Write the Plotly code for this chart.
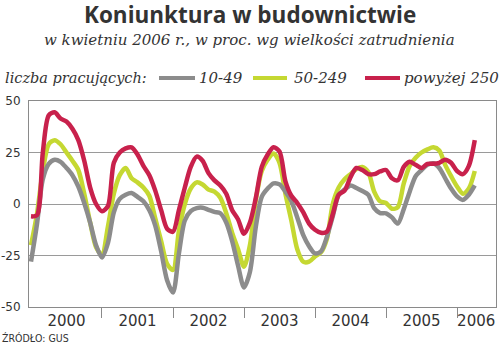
import plotly.graph_objects as go

# Monthly survey balance, Jan 2000 - Apr 2006, by firm size (employees)
start_year = 2000
small_10_49 = [
    -28, -10, 12, 19.5, 21.5, 20.5, 17.5, 14, 8.5, 0.5, -9, -20,
    -26, -19, -4, 2.5, 4.5, 5.3, 3.5, 1.3, -3, -10.5, -23, -37,
    -43, -24, -8, -3.5, -2, -1.8, -2.8, -3.8, -4.5, -9, -18, -30,
    -40.5, -33, -11, 3.5, 7.5, 10, 9.5, 6, 1.5, -6.5, -15, -20.5,
    -24, -23, -16, -6, 4.5, 7, 9, 7.8, 6.3, 4.5, -2, -4.4,
    -4.5, -6.5, -9.5, -2.5, 6, 13.5, 16.5, 19, 19.8, 17.5, 12.5, 7.5,
    3.7, 2, 4.5, 9,
]
medium_50_249 = [
    -20, -5, 16, 29, 31, 29, 25, 21, 16.5, 5, -9, -21,
    -24.5, -11, 5, 14, 17.5, 12.5, 10.5, 8, 4, -7, -18, -29,
    -32, -13, 0, 7.5, 10.5, 9.5, 7, 6, 3, -4.5, -14, -22,
    -30.5, -20, 2, 16, 21.5, 24.5, 20, 5, -8, -22, -28, -28,
    -25.5, -23.5, -17, 0, 8, 12, 14.5, 17, 18, 15.5, 6, 1.3,
    0.5, -2.3, -1.5, 10, 18.5, 22.5, 25, 26.5, 27.5, 26, 19, 13.5,
    8.5, 5, 7.5, 16,
]
large_250 = [
    -6, -5.5, 25, 43, 44.5, 41.5, 40, 36.5, 31, 21, 8, 0,
    -3.5, -1, 20, 25, 27, 27.5, 24, 18.5, 14, 6.5, -3, -12,
    -13.5, -3, 8, 18, 23, 21, 15, 11.5, 9, 5, -3, -7.5,
    -14.5, -9, 3, 18, 24, 27.5, 25.5, 11, 4, 0.5, -4, -9.5,
    -12.5, -14, -13.5, -5, 4.5, 6.5, 13, 17.5, 16.5, 14.5, 14.5, 15.8,
    16.5, 12.5, 11.5, 18, 20.5, 19, 17.5, 19.5, 19.5, 20, 21.5, 20,
    16, 14.5, 18.5, 31,
]
series_names = ["10-49", "50-249", "powyżej 250"]
years = ["2000", "2001", "2002", "2003", "2004", "2005", "2006"]
y_ticks = [-50, -25, 0, 25, 50]
y_tick_text = ["-50", "-25", "0", "25", "50"]

GRAY = "#8c8c8c"
GREEN = "#c5d832"
RED = "#c8214c"
TEXT = "#333333"
AXIS = "#8a8a8a"

months = [start_year + i / 12 for i in range(len(large_250))]

fig = go.Figure()
# green drawn first, gray above it, red on top
for vals, color, name in [
    (medium_50_249, GREEN, series_names[1]),
    (small_10_49, GRAY, series_names[0]),
    (large_250, RED, series_names[2]),
]:
    fig.add_trace(go.Scatter(
        x=months, y=vals, mode="lines", name=name, showlegend=False,
        line=dict(color=color, width=4.5, shape="spline", smoothing=0.8),
        hoverinfo="skip",
    ))

W, H = 500, 345
ML, MR, MT, MB = 29, 4, 101, 38
PW, PH = W - ML - MR, H - MT - MB


def px_x(x):
    return (x - ML) / PW


def px_y(y):
    return (H - MB - y) / PH


year_centers = [int(y) + 0.5 for y in years[:-1]] + [2006.27]

fig.update_layout(
    width=W, height=H,
    margin=dict(l=ML, r=MR, t=MT, b=MB),
    paper_bgcolor="white", plot_bgcolor="white",
    xaxis=dict(
        range=[1999.972, 2006.549], automargin=False,
        tickmode="array", tickvals=year_centers, ticktext=years,
        ticks="", showgrid=False, zeroline=False,
        showline=True, linecolor=AXIS, linewidth=1, mirror=True,
        tickfont=dict(family="DejaVu Sans", size=15, color=TEXT),
        minor=dict(tickmode="array", tickvals=[int(y) for y in years[1:]],
                   ticks="outside", ticklen=10, tickcolor=AXIS, tickwidth=1,
                   showgrid=False),
    ),
    yaxis=dict(
        range=[-50, 50], tickmode="array", tickvals=y_ticks,
        ticktext=y_tick_text, automargin=False,
        ticks="", showgrid=True, gridcolor="#9a9a9a", gridwidth=1,
        zeroline=False, showline=True, linecolor=AXIS, linewidth=1, mirror=True,
        tickfont=dict(family="DejaVu Sans", size=12, color=TEXT),
        ticklabelstandoff=5,
    ),
)

serif = "DejaVu Serif"
ann = [
    dict(text="<b>Koniunktura w budownictwie</b>", x=px_x(250), y=px_y(15),
         font=dict(family="Open Sans", size=22.5, color=TEXT)),
    dict(text="<i>w kwietniu 2006 r., w proc. wg wielkości zatrudnienia</i>",
         x=px_x(249), y=px_y(40), font=dict(family=serif, size=15, color=TEXT)),
    dict(text="<i>liczba pracujących:</i>", x=px_x(3), y=px_y(78), xanchor="left",
         font=dict(family=serif, size=14.5, color=TEXT)),
    dict(text="<i>" + series_names[0] + "</i>", x=px_x(197), y=px_y(78), xanchor="left",
         font=dict(family=serif, size=15, color=TEXT)),
    dict(text="<i>" + series_names[1] + "</i>", x=px_x(292), y=px_y(78), xanchor="left",
         font=dict(family=serif, size=15, color=TEXT)),
    dict(text="<i>" + series_names[2] + "</i>", x=px_x(402), y=px_y(78), xanchor="left",
         font=dict(family=serif, size=15, color=TEXT)),
    dict(text="ŹRÓDŁO: GUS", x=px_x(0), y=px_y(338), xanchor="left",
         font=dict(family="DejaVu Sans Condensed, DejaVu Sans", size=10.5, color=TEXT)),
]
for a in ann:
    a.setdefault("xanchor", "center")
    fig.add_annotation(xref="paper", yref="paper", yanchor="middle",
                       showarrow=False, **a)

for x0, x1, c in [(159, 195, GRAY), (253, 287, GREEN), (365, 400, RED)]:
    fig.add_shape(type="line", xref="paper", yref="paper",
                  x0=px_x(x0), x1=px_x(x1), y0=px_y(78), y1=px_y(78),
                  line=dict(color=c, width=4))

fig.write_html("out.html")
